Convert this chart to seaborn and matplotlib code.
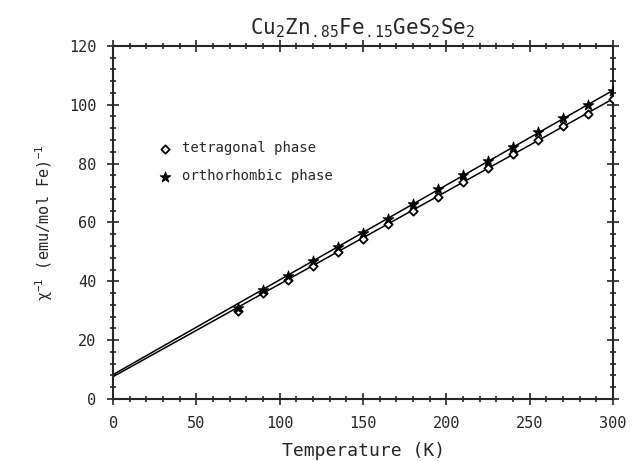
import numpy as np
import pandas as pd
import matplotlib
matplotlib.use("Agg")
import matplotlib.pyplot as plt
from matplotlib.ticker import MultipleLocator
import seaborn as sns

# Data
temps = [75, 90, 105, 120, 135, 150, 165, 180, 195, 210, 225, 240, 255, 270, 285, 300]
chi_tet = [30.0, 36.0, 40.5, 45.2, 49.8, 54.5, 59.3, 64.0, 68.8, 73.6, 78.5, 83.3, 88.0, 92.6, 97.0, 101.8]
chi_orth = [31.0, 37.2, 41.8, 46.8, 51.6, 56.5, 61.3, 66.2, 71.2, 76.0, 81.0, 85.8, 90.8, 95.5, 99.8, 104.8]

# Curie-Weiss fit lines (end points)
fit_T = [0, 300]
fit_tet = [7.6, 102.0]
fit_orth = [8.3, 104.9]

sns.set_style("ticks")
plt.rcParams['font.family'] = ['DejaVu Sans Mono', 'DejaVu Sans']
plt.rcParams['mathtext.fontset'] = 'custom'
plt.rcParams['mathtext.rm'] = 'DejaVu Sans Mono'
plt.rcParams['mathtext.it'] = 'DejaVu Sans Mono'
plt.rcParams['mathtext.default'] = 'rm'

df = pd.DataFrame({"T": temps, "tet": chi_tet, "orth": chi_orth})
fit = pd.DataFrame({"T": fit_T, "tet": fit_tet, "orth": fit_orth})

fig = plt.figure(figsize=(6.32, 4.61), dpi=100)
ax = fig.add_axes([0.179, 0.1345, 0.791, 0.766])

sns.lineplot(data=fit, x="T", y="tet", color="black", lw=1.1, ax=ax)
sns.lineplot(data=fit, x="T", y="orth", color="black", lw=1.1, ax=ax)
sns.scatterplot(data=df, x="T", y="tet", marker="D", s=18, facecolor="white",
                edgecolor="black", linewidth=1.3, ax=ax, label="tetragonal phase", zorder=3)
sns.scatterplot(data=df, x="T", y="orth", marker="*", s=65, color="black",
                edgecolor="black", ax=ax, label="orthorhombic phase", zorder=3)

ax.set_xlim(0, 300)
ax.set_ylim(0, 120)
ax.xaxis.set_major_locator(MultipleLocator(50))
ax.xaxis.set_minor_locator(MultipleLocator(10))
ax.yaxis.set_major_locator(MultipleLocator(20))
ax.yaxis.set_minor_locator(MultipleLocator(4))
ax.tick_params(which="both", direction="inout", top=True, right=True, width=1.2,
               labelsize=11, pad=8)
ax.tick_params(which="major", length=8)
ax.tick_params(which="minor", length=4)
for sp in ax.spines.values():
    sp.set_linewidth(1.5)

ax.set_xlabel("Temperature (K)", fontsize=13, labelpad=8)
ax.set_ylabel(r"$\chi^{-1}$ (emu/mol Fe)$^{-1}$", fontsize=11, labelpad=10)
ax.set_title(r"Cu$_2$Zn$_{.85}$Fe$_{.15}$GeS$_2$Se$_2$", fontsize=15, pad=8)

ax.legend(loc="upper left", bbox_to_anchor=(0.065, 0.765), frameon=False,
          fontsize=10, handletextpad=0.7, labelspacing=1.0, handlelength=1.0)

fig.savefig("out.png", dpi=100)
